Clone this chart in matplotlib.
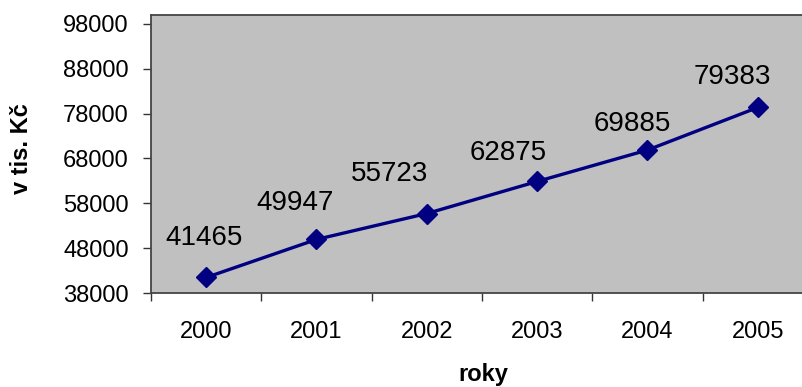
import matplotlib.pyplot as plt
from matplotlib.ticker import FixedLocator

# Data
years = ['2000', '2001', '2002', '2003', '2004', '2005']
values = [41465, 49947, 55723, 62875, 69885, 79383]

# label offsets in pixels relative to each point (dx, dy)
label_offsets = [(-2, 39), (-21, 36), (-37, 40), (-29, 28), (-15, 26), (-26, 30)]

plt.rcParams['font.family'] = ['Liberation Sans', 'DejaVu Sans']

fig = plt.figure(figsize=(8.03, 3.87), dpi=100)
W, H = 803, 387
ax = fig.add_axes([151 / W, 1 - 293 / H, (813 - 151) / W, (293 - 15) / H])
ax.set_facecolor('#c0c0c0')

x = list(range(len(years)))
ax.plot(x, values, color='#000080', linewidth=2.4, marker='D',
        markersize=10, markerfacecolor='#000080', markeredgecolor='#000080')

for xi, v, (dx, dy) in zip(x, values, label_offsets):
    ax.annotate(str(v), (xi, v), xytext=(dx, dy), textcoords='offset pixels',
                ha='center', va='center', fontsize=20)

ax.set_xlim(-0.5, 5.5)
ax.set_ylim(38000, 100000)
ax.set_yticks(range(38000, 98001, 10000))
ax.set_xticks(x)
ax.set_xticklabels(years)
ax.xaxis.set_minor_locator(FixedLocator([i - 0.5 for i in range(7)]))

ax.tick_params(axis='y', length=6, width=1, color='#333333', pad=10, labelsize=17)
ax.tick_params(axis='x', which='major', length=0, pad=20, labelsize=17)
ax.tick_params(axis='x', which='minor', length=6, width=1, color='#333333')

for side in ['left', 'bottom', 'top', 'right']:
    ax.spines[side].set_color('#444444')
    ax.spines[side].set_linewidth(1.3)

fig.text(483 / W, 1 - 375 / H, 'roky', ha='center', va='center',
         fontsize=17, fontweight='bold')
fig.text(22 / W, 1 - 149 / H, 'v tis. Kč', ha='center', va='center',
         fontsize=17, fontweight='bold', rotation=90)

fig.savefig('out.png', dpi=100)
